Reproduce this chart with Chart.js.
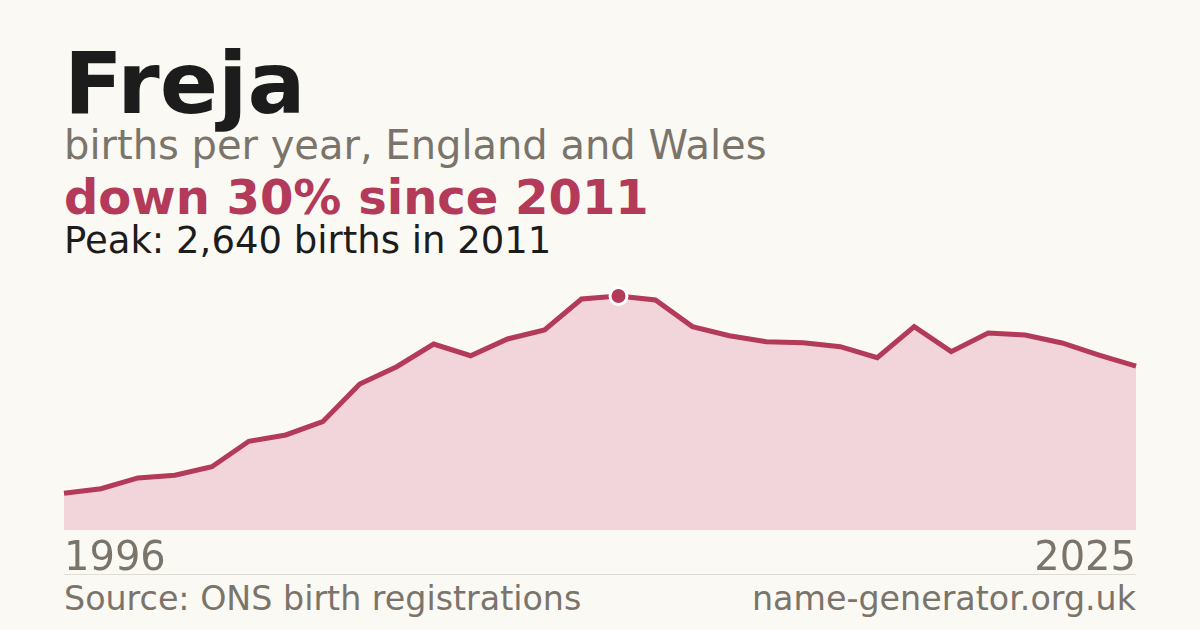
<!DOCTYPE html>
<html lang="en">
<head>
  <meta charset="UTF-8" />
  <title>Freja - births per year</title>
  <script src="https://cdn.jsdelivr.net/npm/chart.js"></script>
  <style>
    :root {
      --bg: #faf9f4;
      --ink: #1c1c1c;
      --grey: #7a746b;
      --accent: #b33a59;
    }

    html, body {
      margin: 0;
      padding: 0;
      background: var(--bg);
      font-family: 'DejaVu Sans', sans-serif;
    }

    .card {
      position: relative;
      width: 1200px;
      height: 630px;
      overflow: hidden;
    }

    .txt {
      position: absolute;
      left: 64px;
      line-height: 1;
      white-space: nowrap;
    }

    .name { top: 40px; font-size: 86px; font-weight: bold; color: var(--ink); }
    .sub { top: 125px; font-size: 40px; color: var(--grey); }
    .trend { top: 173px; font-size: 48px; font-weight: bold; color: var(--accent); }
    .peak { top: 222px; font-size: 37px; color: var(--ink); }

    .year { top: 536px; font-size: 40px; color: var(--grey); }
    .year.last { left: auto; right: 64px; }

    .rule {
      position: absolute;
      left: 64px;
      top: 574px;
      width: 1072px;
      height: 1px;
      background: #e0ddd5;
    }

    .foot { top: 582px; font-size: 33.3px; color: var(--grey); }
    .foot.right { left: auto; right: 64px; }

    #chart {
      position: absolute;
      left: 54px;
      top: 270px;
    }
  </style>
</head>
<body>
  <div class="card">
    <div class="txt name">Freja</div>
    <div class="txt sub">births per year, England and Wales</div>
    <div class="txt trend" id="trend"></div>
    <div class="txt peak" id="peak"></div>

    <canvas id="chart" width="1092" height="270"></canvas>

    <div class="txt year" id="firstYear"></div>
    <div class="txt year last" id="lastYear"></div>
    <div class="rule"></div>
    <div class="txt foot">Source: ONS birth registrations</div>
    <div class="txt foot right">name-generator.org.uk</div>
  </div>

  <script>
    // births per year (peak 2,640 in 2011)
    const years = [1996, 1997, 1998, 1999, 2000, 2001, 2002, 2003, 2004, 2005,
                   2006, 2007, 2008, 2009, 2010, 2011, 2012, 2013, 2014, 2015,
                   2016, 2017, 2018, 2019, 2020, 2021, 2022, 2023, 2024, 2025];
    const births = [414, 466, 587, 617, 714, 1001, 1072, 1222, 1647, 1842,
                    2098, 1966, 2155, 2256, 2606, 2640, 2595, 2294, 2192, 2124,
                    2113, 2068, 1944, 2294, 2012, 2222, 2200, 2110, 1974, 1848];
    const yMin = 0;
    const yMax = 2933;

    const accent = '#b33a59';
    const fillColour = '#f2d5da';

    const peakIdx = births.indexOf(Math.max(...births));
    const peakVal = births[peakIdx];
    const lastVal = births[births.length - 1];
    const drop = Math.round((1 - lastVal / peakVal) * 100);

    document.getElementById('trend').textContent = 'down ' + drop + '% since ' + years[peakIdx];
    document.getElementById('peak').textContent = 'Peak: ' + peakVal.toLocaleString('en-GB') + ' births in ' + years[peakIdx];
    document.getElementById('firstYear').textContent = years[0];
    document.getElementById('lastYear').textContent = years[years.length - 1];

    new Chart(document.getElementById('chart'), {
      type: 'line',
      data: {
        labels: years,
        datasets: [{
          data: births,
          fill: 'origin',
          backgroundColor: fillColour,
          borderColor: accent,
          borderWidth: 5,
          tension: 0,
          pointRadius: births.map((v, i) => i === peakIdx ? 8.5 : 0),
          pointHoverRadius: 0,
          pointBackgroundColor: accent,
          pointBorderColor: '#ffffff',
          pointBorderWidth: 3
        }]
      },
      options: {
        responsive: false,
        animation: false,
        layout: { padding: { left: 10, right: 10, top: 0, bottom: 10 } },
        plugins: {
          legend: { display: false },
          tooltip: { enabled: false }
        },
        scales: {
          x: { display: false, offset: false },
          y: { display: false, min: yMin, max: yMax }
        }
      }
    });
  </script>
</body>
</html>
